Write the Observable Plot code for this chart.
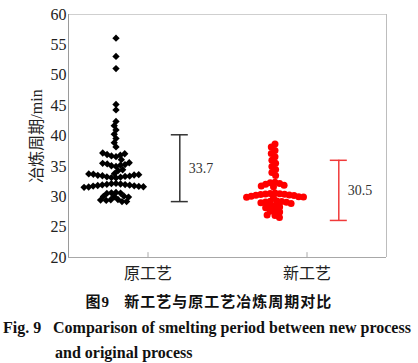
<!DOCTYPE html>
<html>
<head>
<meta charset="utf-8">
<script src="https://cdn.jsdelivr.net/npm/d3@7"></script>
<script src="https://cdn.jsdelivr.net/npm/@observablehq/plot@0.6"></script>
<style>
  html, body { margin: 0; padding: 0; background: #fff; }
  #wrap { width: 418px; height: 363px; overflow: hidden; }
  .cap { font-family: "Liberation Serif", "Noto Sans CJK SC", serif; font-weight: bold; color: #111; }
  .l1 { text-align: center; font-size: 15px; letter-spacing: 1px; line-height: 25px; height: 25px; }
  .l2, .l3 { font-size: 16px; line-height: 25px; height: 25px; white-space: nowrap; }
  .l2 { padding-left: 3px; }
  .l2 .fig { display: inline-block; width: 50px; }
  .l3 { padding-left: 55px; }
</style>
</head>
<body>
<div id="wrap">
  <div id="chart"></div>
  <div class="cap">
    <div class="l1">图9&nbsp;&nbsp;&nbsp;新工艺与原工艺冶炼周期对比</div>
    <div class="l2"><span class="fig">Fig. 9</span>Comparison of smelting period between new process</div>
    <div class="l3">and original process</div>
  </div>
</div>
<script>
// ---- data ----
const categories = ["原工艺", "新工艺"];

// smelting period (min), original process (listed in recording order)
const originalTimes = [
  56.1, 53.1, 51.1, 45.2, 44.3,
  42.4, 41.7, 41.0, 40.3, 39.6, 38.9, 38.2,
  32.2, 32.15, 32.1, 32.05, 32.0, 31.95, 31.9, 31.85, 31.8, 31.75, 31.7, 31.65, 31.6, 31.55,
  30.7, 30.65, 30.6, 30.55,
  30.1, 30.05, 30.0, 29.95,
  29.55, 29.5, 29.45, 29.4,
  29.2, 29.2,
  33.1, 33.16, 33.22, 33.28, 33.34, 33.4, 33.46, 33.52, 33.58, 33.64, 33.7, 33.76, 33.82,
  35.0, 35.1, 35.2, 35.3, 35.4, 35.5, 35.6,
  36.6, 36.72, 36.84, 36.96, 37.08, 37.2,
  36.1,
  34.3, 34.45
];

// smelting period (min), new process (listed in recording order)
const newTimes = [
  38.7, 38.2, 37.6, 37.1, 36.6, 36.0, 35.5, 35.0, 34.5, 34.0, 33.5,
  32.4, 32.3, 32.2, 32.05, 31.9, 31.75, 31.65,
  30.6, 30.55, 30.5, 30.45, 30.4, 30.35, 30.3, 30.25, 30.2, 30.1, 30.0, 29.95, 29.9, 29.85,
  29.3, 29.25, 29.2, 29.15, 29.1, 29.0, 28.9,
  28.5, 28.45, 28.3, 28.2,
  27.7, 27.6, 27.5,
  27.0, 26.9, 26.6
];

const errLow = [29.2, 26.1];
const errHigh = [40.2, 36.0];
const meanLabels = [33.7, 30.5];
const yTicks = [20, 25, 30, 35, 40, 45, 50, 55, 60];

// styles
const dotColors = ["#000000", "#ff0000"];
const errColors = ["#333333", "#f03a3a"];

// ---- build tables ----
const blackPts = originalTimes.map(v => ({cat: categories[0], v}));
const redPts = newTimes.map(v => ({cat: categories[1], v}));
const errRows = categories.map((c, i) => ({cat: c, lo: errLow[i], hi: errHigh[i], mean: meanLabels[i], err: errColors[i]}));
const borderRows = [{cat: categories[0], x: -1}, {cat: categories[1], x: 1}];

const ERR_X = 0.4, CAP = 0.107, SWARM_DX = -32;

const chart = Plot.plot({
  width: 418,
  height: 290,
  marginLeft: 67,
  marginRight: 32,
  marginTop: 14,
  marginBottom: 33,
  style: {fontFamily: '"Liberation Serif", "Noto Sans CJK SC", serif', fontSize: "16px", color: "#222", background: "#fff"},
  x: {domain: [-1, 1], axis: null},
  y: {domain: [20, 60], ticks: yTicks, tickSize: 0, tickPadding: 2, label: "冶炼周期/min", labelAnchor: "center", labelOffset: 38, labelArrow: "none"},
  fx: {domain: categories, padding: 0, axis: "bottom", tickSize: 0, tickPadding: 10, label: null},
  marks: [
    // frame
    Plot.ruleY([20], {stroke: "#a8a8a8"}),
    Plot.ruleY([60], {stroke: "#cfcfcf"}),
    Plot.ruleX(borderRows, {fx: "cat", x: "x", y1: 20, y2: 60, stroke: d => d.x < 0 ? "#9a9a9a" : "#bdbdbd"}),
    // inner category ticks
    Plot.ruleX([0], {y1: 20, y2: 20.8, stroke: "#aaa"}),
    // swarms
    Plot.dot(blackPts, Plot.dodgeX({anchor: "middle", padding: -2.0, fx: "cat", y: "v", r: 3.3, symbol: "diamond2", fill: dotColors[0], dx: SWARM_DX})),
    Plot.dot(redPts, Plot.dodgeX({anchor: "middle", padding: -2.2, fx: "cat", y: "v", r: 3.5, fill: dotColors[1], dx: SWARM_DX})),
    // error bars
    Plot.ruleX(errRows, {fx: "cat", x: ERR_X, y1: "lo", y2: "hi", stroke: "err", strokeWidth: 1.5}),
    Plot.ruleY(errRows, {fx: "cat", y: "lo", x1: ERR_X - CAP, x2: ERR_X + CAP, stroke: "err", strokeWidth: 1.5}),
    Plot.ruleY(errRows, {fx: "cat", y: "hi", x1: ERR_X - CAP, x2: ERR_X + CAP, stroke: "err", strokeWidth: 1.5}),
    Plot.text(errRows, {fx: "cat", x: ERR_X, y: d => (d.lo + d.hi) / 2, text: d => d.mean.toFixed(1), dx: 9, textAnchor: "start", fontSize: 14, fill: "#333"})
  ]
});
document.getElementById("chart").appendChild(chart);
</script>
</body>
</html>
